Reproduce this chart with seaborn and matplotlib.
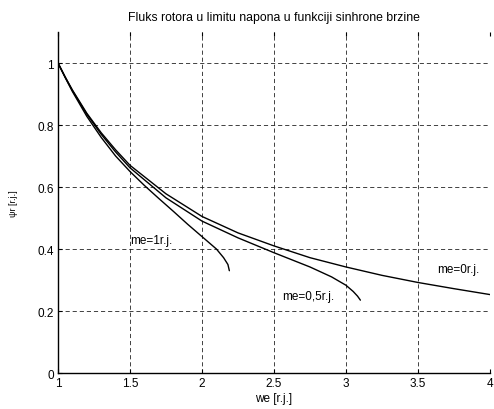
"""Fluks rotora u limitu napona - recreation with seaborn."""

import matplotlib
matplotlib.use("Agg")
import matplotlib.pyplot as plt
import pandas as pd
import seaborn as sns

# values
we_me0 = [1.00, 1.05, 1.10, 1.20, 1.30, 1.40, 1.50, 1.75, 2.00, 2.25, 2.50, 2.75, 3.00, 3.25, 3.50, 3.75, 4.00]
psi_me0 = [1.000, 0.955, 0.913, 0.838, 0.775, 0.720, 0.670, 0.578, 0.505, 0.452, 0.410, 0.372, 0.342, 0.315, 0.292, 0.272, 0.253]

we_me05 = [1.00, 1.05, 1.10, 1.20, 1.30, 1.40, 1.50, 1.75, 2.00, 2.25, 2.50, 2.75, 2.90, 3.00, 3.05, 3.08, 3.10]
psi_me05 = [1.000, 0.954, 0.911, 0.835, 0.770, 0.713, 0.662, 0.565, 0.490, 0.436, 0.388, 0.342, 0.310, 0.283, 0.263, 0.248, 0.235]

we_me1 = [1.00, 1.05, 1.10, 1.20, 1.30, 1.40, 1.50, 1.60, 1.70, 1.80, 1.90, 2.00, 2.10, 2.15, 2.18, 2.19]
psi_me1 = [1.000, 0.953, 0.908, 0.828, 0.760, 0.700, 0.650, 0.605, 0.563, 0.522, 0.480, 0.440, 0.400, 0.372, 0.350, 0.330]

series_names = ["me=0r.j.", "me=0,5r.j.", "me=1r.j."]
label_x = [3.63, 2.56, 1.50]
label_y = [0.335, 0.25, 0.43]

x_ticks = [1, 1.5, 2, 2.5, 3, 3.5, 4]
x_tick_labels = ["1", "1.5", "2", "2.5", "3", "3.5", "4"]
y_ticks = [0, 0.2, 0.4, 0.6, 0.8, 1]
y_tick_labels = ["0", "0.2", "0.4", "0.6", "0.8", "1"]

frames = []
for name, xs, ys in zip(series_names, [we_me0, we_me05, we_me1], [psi_me0, psi_me05, psi_me1]):
    frames.append(pd.DataFrame({"we": xs, "psi": ys, "me": name}))
df = pd.concat(frames, ignore_index=True)

sns.set_style("white", {"text.color": "black", "axes.labelcolor": "black",
                        "xtick.color": "black", "ytick.color": "black"})
plt.rcParams["font.family"] = ["Liberation Sans", "DejaVu Sans"]

fig = plt.figure(figsize=(4.94, 4.10), dpi=100)
ax = fig.add_axes([0.1174, 0.0878, 0.8745, 0.8317])

sns.lineplot(
    data=df, x="we", y="psi", hue="me", units="me", estimator=None, sort=False,
    palette=["black"] * 3, linewidth=1.0, legend=False, ax=ax,
)

for name, lx, ly in zip(series_names, label_x, label_y):
    ax.text(lx, ly, name, fontsize=8.5, va="center", ha="left", color="black")

ax.set_xlim(1, 4)
ax.set_ylim(0, 1.1)
ax.set_xticks(x_ticks)
ax.set_xticklabels(x_tick_labels)
ax.set_yticks(y_ticks)
ax.set_yticklabels(y_tick_labels)

ax.grid(True, color="#222222", linestyle=(0, (5, 3.5)), linewidth=0.6)
ax.tick_params(direction="in", length=3, width=0.8, labelsize=8.5, top=True, right=False,
               bottom=True, left=True, pad=3, color="black", labelcolor="black")
for side in ["top", "right"]:
    ax.spines[side].set_visible(False)
for side in ["left", "bottom"]:
    ax.spines[side].set_color("black")
    ax.spines[side].set_linewidth(1.0)

ax.set_title("Fluks rotora u limitu napona u funkciji sinhrone brzine", fontsize=8.8, pad=9, color="black")
ax.set_xlabel("we [r.j.]", fontsize=8.5, labelpad=2, color="black")
ax.set_ylabel("ψr [r.j.]", fontsize=6.5, labelpad=14, color="black")

fig.savefig("out.png", dpi=100)
